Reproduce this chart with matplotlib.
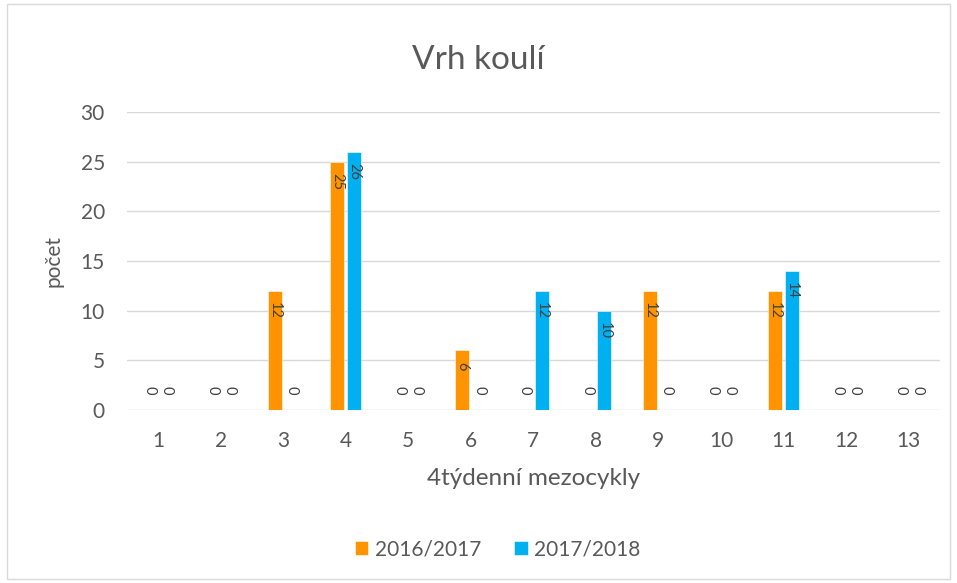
import matplotlib
matplotlib.use("Agg")
import matplotlib.pyplot as plt
import numpy as np
from matplotlib.patches import Rectangle

categories = ["1", "2", "3", "4", "5", "6", "7", "8", "9", "10", "11", "12", "13"]
s2016 = [0, 0, 12, 25, 0, 6, 0, 0, 12, 0, 12, 0, 0]
s2017 = [0, 0, 0, 26, 0, 0, 12, 10, 0, 0, 14, 0, 0]
series_names = ["2016/2017", "2017/2018"]
colors = ["#FF9300", "#00B0F0"]
yticks = [0, 5, 10, 15, 20, 25, 30]

plt.rcParams['font.family'] = ['Lato', 'DejaVu Sans']
txt = "#595959"

fig = plt.figure(figsize=(9.57, 5.83), dpi=100)
fig.patches.append(Rectangle((0.007, 0.007), 0.986, 0.986, transform=fig.transFigure,
                             fill=False, edgecolor="#d9d9d9", linewidth=1))
ax = fig.add_axes([0.1327, 0.2967, 0.982 - 0.1327, 0.8079 - 0.2967])

x = np.arange(len(categories))
w = 0.224
off = 0.136
for vals, c, name, o in [(s2016, colors[0], series_names[0], -off), (s2017, colors[1], series_names[1], off)]:
    ax.bar(x + o, vals, width=w, color=c, label=name, zorder=3,
           edgecolor="#ffffff", linewidth=0.4)
    for xi, v in zip(x + o, vals):
        if v > 0:
            ax.annotate(str(v), (xi, v), xytext=(0, -8), textcoords="offset points",
                        ha="center", va="top", rotation=-90, fontsize=10.5, color="#404040", zorder=4)
        else:
            ax.annotate(str(v), (xi, 0), xytext=(0, 11), textcoords="offset points",
                        ha="center", va="bottom", rotation=-90, fontsize=10.5, color="#404040", zorder=4)

ax.set_xlim(-0.5, len(categories) - 0.5)
ax.set_ylim(0, 30)
ax.set_yticks(yticks)
ax.set_xticks(x)
ax.set_xticklabels(categories)
ax.grid(axis="y", color="#d9d9d9", linewidth=1, zorder=0)
for s in ax.spines.values():
    s.set_visible(False)
ax.tick_params(length=0, labelsize=15, colors=txt)
ax.tick_params(axis="x", pad=15)
ax.tick_params(axis="y", pad=16)
ax.set_xlabel("4týdenní mezocykly", fontsize=17.5, color=txt, labelpad=12)
ax.set_ylabel("počet", fontsize=15, color=txt, labelpad=12)
fig.text(0.5, 0.897, "Vrh koulí", ha="center", va="center", fontsize=24, color=txt)

leg = fig.legend(loc="center", bbox_to_anchor=(0.52, 0.058), ncol=2, frameon=False,
                 fontsize=15, handlelength=0.65, handleheight=0.65, handletextpad=0.3,
                 columnspacing=1.6, labelcolor=txt)

fig.savefig("out.png", dpi=100)
